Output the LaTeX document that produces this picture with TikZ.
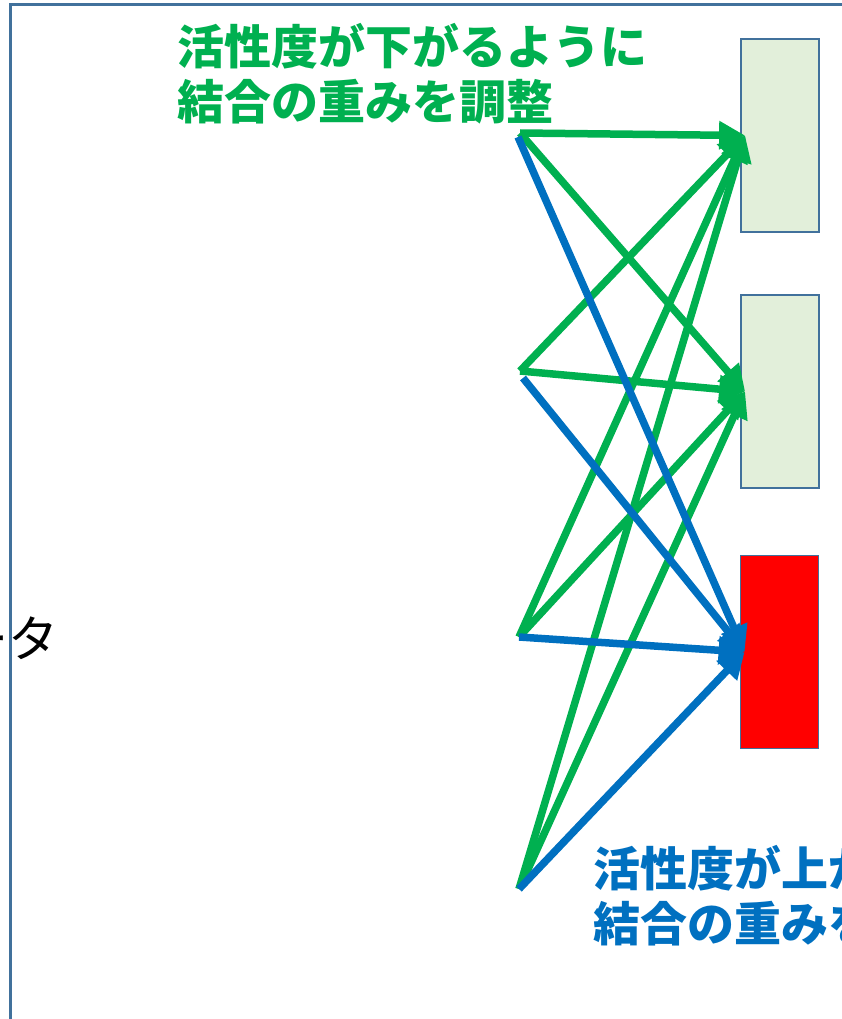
\documentclass[tikz,border=0pt]{standalone}
\usepackage{fontspec}
\newfontfamily\jp{Noto Sans CJK JP}
\usetikzlibrary{arrows.meta}
\definecolor{frameblue}{RGB}{65,113,156}
\definecolor{boxgreen}{RGB}{226,239,218}
\definecolor{lgreen}{RGB}{0,176,80}
\definecolor{lblue}{RGB}{0,112,192}
\begin{document}
\begin{tikzpicture}[x=1pt,y=-1pt,
  frameline/.style={draw=frameblue,line width=3pt},
  unitbox/.style={draw=frameblue,line width=1.8pt,fill=boxgreen,minimum width=78pt,minimum height=193pt,inner sep=0pt},
  hotbox/.style={unitbox,fill=red},
  conn/.style={line width=7.5pt,-{Triangle[length=26pt,width=27pt]}},
  down/.style={conn,draw=lgreen},
  up/.style={conn,draw=lblue},
  label/.style={font=\jp\bfseries\fontsize{47}{55}\selectfont,align=left,anchor=north west,inner sep=0pt}
]
\useasboundingbox (0,0) rectangle (842,1019);
\clip (0,0) rectangle (842,1019);
\draw[frameline] (10,5) rectangle (900,1100);

\node[unitbox] (b1) at (780,135.5) {};
\node[unitbox] (b2) at (780,391.5) {};
\node[hotbox] (b3) at (779.5,652) {};

\coordinate (t1) at ([xshift=5pt]b1.west);
\coordinate (t2) at ([xshift=5pt]b2.west);
\coordinate (t3) at ([xshift=5pt]b3.west);

\coordinate (s1) at (520,133);
\coordinate (s1b) at (518,137);
\coordinate (s2) at (520,371);
\coordinate (s2b) at (523,378);
\coordinate (s3) at (519,637);
\coordinate (s4) at (519,889);

\draw[down] (s1) -- (t1);
\draw[down] (s1) -- (t2);
\draw[down] (s2) -- (t1);
\draw[down] (s2) -- (t2);
\draw[down] (s3) -- (t1);
\draw[down] (s3) -- (t2);
\draw[down] (s4) -- (t1);
\draw[down] (s4) -- (t2);

\draw[up] (s1b) -- (t3);
\draw[up] (s2b) -- (t3);
\draw[up] (s3) -- (t3);
\draw[up] (s4) -- (t3);

\node[label,text=lgreen] (lbldown) at (177,23) {活性度が下がるように\\結合の重みを調整};
\node[label,text=lblue] (lblup) at (593,845) {活性度が上がるように\\結合の重みを調整};
\node[font=\jp\fontsize{50}{50}\selectfont,anchor=north east,inner sep=0pt] (data) at (59,617) {ータ};
\end{tikzpicture}
\end{document}
